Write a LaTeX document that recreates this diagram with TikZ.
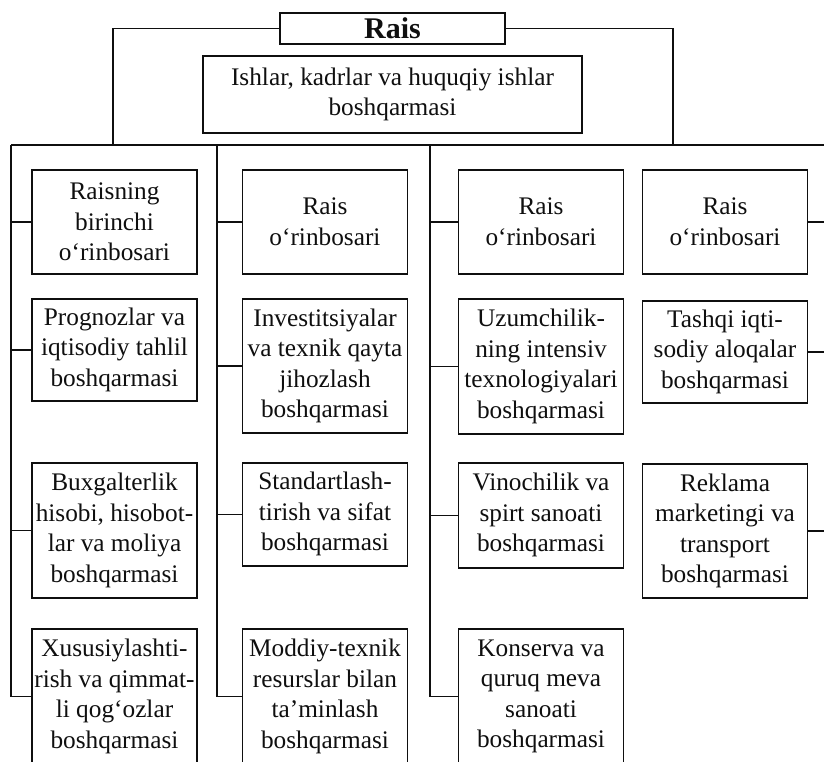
\documentclass[tikz,border=0pt]{standalone}
\usepackage{fontspec}
\setmainfont{Liberation Serif}
\usetikzlibrary{positioning}
\definecolor{OrgInk}{RGB}{15,15,15}
\tikzset{
  org/box/.style={
    draw=OrgInk,
    line width=1.5pt,
    fill=white,
    align=center,
    text=OrgInk,
    minimum width=165pt,
    inner sep=0pt,
    anchor=north,
    font=\fontsize{25.3}{30.5}\selectfont
  },
  org/chief/.style={org/box, minimum width=225pt, minimum height=31pt, font=\fontsize{30}{34}\selectfont\bfseries},
  org/line/.style={draw=OrgInk, line width=1.5pt}
}

\begin{document}
\begin{tikzpicture}[x=1pt,y=-1pt]
  \useasboundingbox (0,0) rectangle (824,761);
  \clip (0,0) rectangle (824,761);
  \node[org/chief] (rais) at (392.5,12) {Rais};
  \node[org/box,minimum width=379pt,minimum height=77pt] (ishlar) at (392.5,55) {Ishlar, kadrlar va huquqiy ishlar\\boshqarmasi};
  \coordinate (bl) at (113,145);
  \coordinate (br) at (673,145);
  \coordinate (b1) at (11,145);
  \coordinate (b2) at (217,145);
  \coordinate (b3) at (430,145);
  \coordinate (b4) at (828,145);
  \node[org/box,minimum height=104pt] (o1) at (114.5,169) {Raisning\\birinchi\\o‘rinbosari};
  \node[org/box,minimum height=104pt] (o2) at (325,169) {Rais\\o‘rinbosari};
  \node[org/box,minimum height=104pt] (o3) at (541,169) {Rais\\o‘rinbosari};
  \node[org/box,minimum height=104pt] (o4) at (725,169) {Rais\\o‘rinbosari};
  \node[org/box,minimum height=102pt] (p1) at (114.5,298) {Prognozlar va\\iqtisodiy tahlil\\boshqarmasi};
  \node[org/box,minimum height=134pt] (p2) at (325,298) {Investitsiyalar\\va texnik qayta\\jihozlash\\boshqarmasi};
  \node[org/box,minimum height=135pt] (p3) at (541,298) {Uzumchilik-\\ning intensiv\\texnologiyalari\\boshqarmasi};
  \node[org/box,minimum height=102pt] (p4) at (725,300) {Tashqi iqti-\\sodiy aloqalar\\boshqarmasi};
  \node[org/box,minimum height=135pt] (q1) at (114.5,462) {Buxgalterlik\\hisobi, hisobot-\\lar va moliya\\boshqarmasi};
  \node[org/box,minimum height=103pt] (q2) at (325,462) {Standartlash-\\tirish va sifat\\boshqarmasi};
  \node[org/box,minimum height=105pt] (q3) at (541,462) {Vinochilik va\\spirt sanoati\\boshqarmasi};
  \node[org/box,minimum height=134pt] (q4) at (725,463) {Reklama\\marketingi va\\transport\\boshqarmasi};
  \node[org/box,minimum height=135pt] (r1) at (114.5,628) {Xususiylashti-\\rish va qimmat-\\li qog‘ozlar\\boshqarmasi};
  \node[org/box,minimum height=135pt] (r2) at (325,628) {Moddiy-texnik\\resurslar bilan\\ta’minlash\\boshqarmasi};
  \node[org/box,minimum height=135pt] (r3) at (541,628) {Konserva va\\quruq meva\\sanoati\\boshqarmasi};
  \draw[org/line] (rais.west) -| (bl);
  \draw[org/line] (rais.east) -| (br);
  \draw[org/line] (b1) -- (b4);
  \foreach \c in {1,2,3}{
    \draw[org/line] (b\c) |- (r\c.west);
    \foreach \r in {o,p,q}{\draw[org/line] (\r\c.west) -- (\r\c.west -| b\c);}
  }
  \draw[org/line] (b4) |- (q4.east);
  \foreach \r in {o,p}{\draw[org/line] (\r4.east) -- (\r4.east -| b4);}
\end{tikzpicture}
\end{document}
